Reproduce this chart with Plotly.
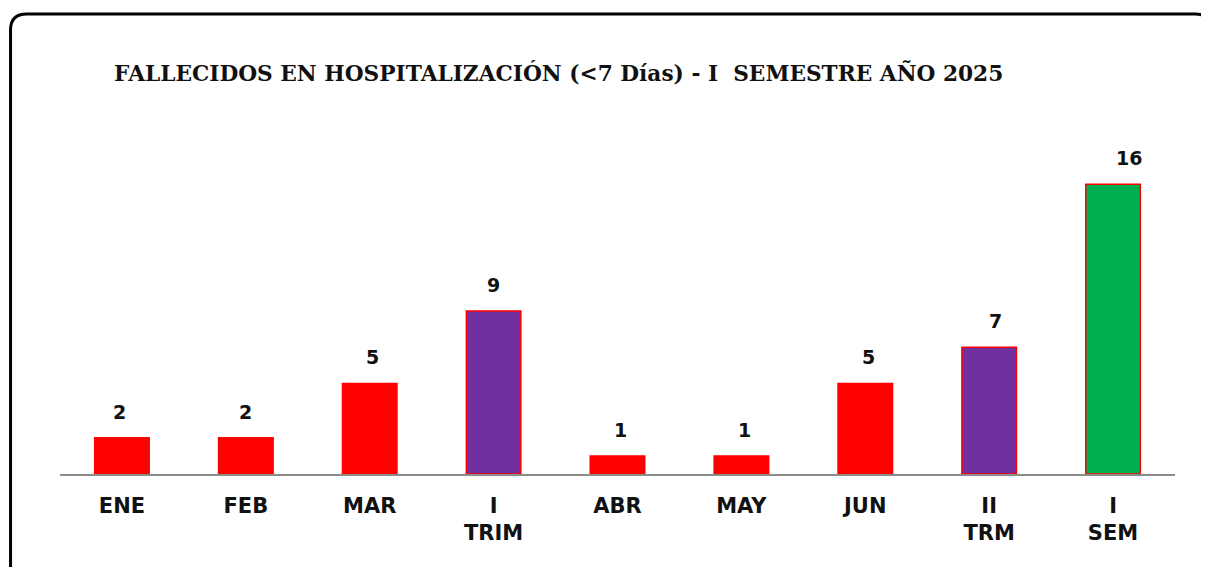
import plotly.graph_objects as go

categories = ["ENE", "FEB", "MAR", "I<br>TRIM", "ABR", "MAY", "JUN", "II<br>TRM", "I<br>SEM"]
values = [2, 2, 5, 9, 1, 1, 5, 7, 16]
colors = ["#FF0000", "#FF0000", "#FF0000", "#7030A0", "#FF0000", "#FF0000", "#FF0000", "#7030A0", "#00B050"]

# label placement tweaks (style)
label_dx = [-2, 0, 3, 0, 3, 3, 3, 6, 16]

# page body has an 8px margin: work in reference pixels and shift
OFF = 8
W, H = 1209 - OFF, 567 - OFF
L, R, T, B = 59.5 - OFF, 33.5, 130 - OFF, 93

fig = go.Figure()
fig.add_trace(go.Bar(
    x=categories, y=values,
    marker=dict(color=colors, line=dict(color="#FF0000", width=1.5)),
    width=0.44,
    hoverinfo="skip",
))

for c, v, dx in zip(categories, values, label_dx):
    fig.add_annotation(x=c, y=v, text=f"<b>{v}</b>", showarrow=False, yanchor="bottom", yshift=13,
                       xshift=dx, font=dict(family="DejaVu Sans", size=19, color="#111111"))

pw, ph = W - L - R, H - T - B
def px(x):
    return (x - OFF - L) / pw
def py(y):
    return (H - B - (y - OFF)) / ph
x0, y0, x1, y1, r = 10, 14, 1212, 600, 16
path = (f"M {px(x0)},{py(y1)} L {px(x0)},{py(y0 + r)} Q {px(x0)},{py(y0)} {px(x0 + r)},{py(y0)} "
        f"L {px(x1 - r)},{py(y0)} Q {px(x1)},{py(y0)} {px(x1)},{py(y0 + r)} L {px(x1)},{py(y1)}")
fig.add_shape(type="path", path=path, xref="paper", yref="paper",
              line=dict(color="black", width=3), layer="above")

fig.add_annotation(text="<b>FALLECIDOS EN HOSPITALIZACIÓN (&lt;7 Días) - I  SEMESTRE AÑO 2025</b>",
                   xref="paper", yref="paper", x=px(558), y=py(73), xanchor="center", yanchor="middle",
                   showarrow=False, font=dict(family="DejaVu Serif", size=21.7, color="#111111"))
fig.add_annotation(text="<b>GRAFICO 14</b>", xref="paper", yref="paper", x=px(614), y=py(5),
                   xanchor="center", yanchor="bottom", showarrow=False,
                   font=dict(family="DejaVu Sans", size=20, color="#111111"))

fig.update_layout(
    width=W, height=H,
    margin=dict(l=L, r=R, t=T, b=B),
    paper_bgcolor="white", plot_bgcolor="white",
    showlegend=False,
    xaxis=dict(showline=True, linecolor="#8c8c8c", linewidth=1.5, ticks="", showgrid=False,
               tickfont=dict(family="DejaVu Sans", size=21, color="#111111"), ticklabelstandoff=12,
               tickprefix="<b>", ticksuffix="</b>"),
    yaxis=dict(range=[0, 19], visible=False, showgrid=False, zeroline=False),
)

fig.write_html("out.html")
